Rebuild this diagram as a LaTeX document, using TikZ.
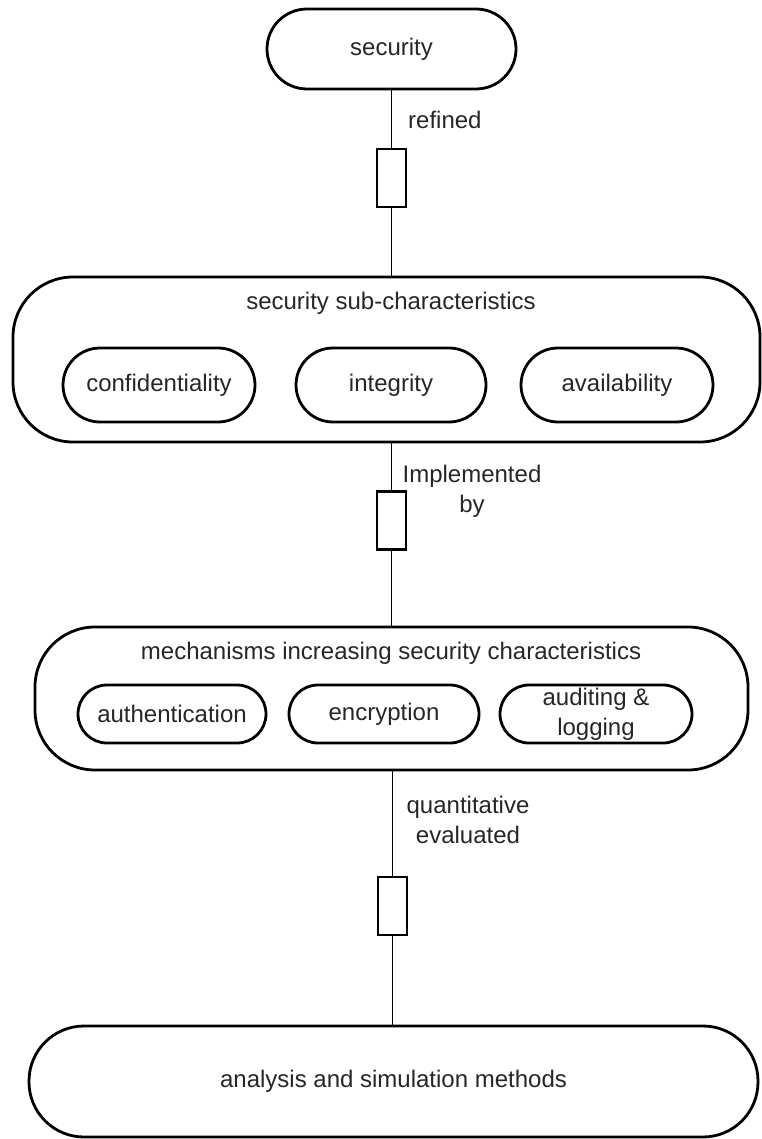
\documentclass[tikz,border=0pt]{standalone}
\usepackage{fontspec}
\setmainfont{Liberation Sans}
\begin{document}
\begin{tikzpicture}[x=1pt,y=-1pt,
  txt/.style={font=\fontsize{24}{30}\selectfont, text=black!85, align=center, inner sep=0pt},
  box/.style={draw, line width=2.8pt, txt},
  pill/.style={box, minimum height=74pt, rounded corners=37pt},
  smallpill/.style={box, minimum height=58pt, rounded corners=29pt},
  group/.style={box, rounded corners=60pt},
  link/.style={line width=1.5pt},
  stub/.style={draw, line width=2.6pt, minimum width=29pt, minimum height=58pt, inner sep=0pt},
  lbl/.style={txt}
]
\useasboundingbox (0,0) rectangle (762,1139);

% top level
\node[box, minimum width=249pt, minimum height=80pt, rounded corners=40pt] (sec) at (391.5,49) {security};

% sub-characteristics group
\node[group, minimum width=747pt, minimum height=165pt] (sub) at (386.5,359.5) {};
\node[txt] (subtitle) at (391,303) {security sub-characteristics};
\node[pill, minimum width=192pt] (conf) at (159,385) {confidentiality};
\node[pill, minimum width=190pt] (integ) at (391,385) {integrity};
\node[pill, minimum width=192pt] (avail) at (617,385) {availability};

% mechanisms group
\node[group, minimum width=713pt, minimum height=143pt] (mech) at (391.5,698.5) {};
\node[txt] (mechtitle) at (391,653) {mechanisms increasing security characteristics};
\node[smallpill, minimum width=188pt] (auth) at (172,714) {authentication};
\node[smallpill, minimum width=190pt] (enc) at (384,714) {encryption};
\node[smallpill, minimum width=192pt] (audit) at (596,714) {auditing \&\\logging};

% methods
\node[box, minimum width=729pt, minimum height=111pt, rounded corners=55pt] (meth) at (393.5,1081.5) {analysis and simulation methods};

% relation stubs
\node[stub] (r1) at (391.5,178) {};
\node[stub] (r2) at (391.5,520.5) {};
\node[stub] (r3) at (392.5,906) {};

% connectors
\draw[link] (sec.south) -- (r1.north);
\draw[link] (r1.south) -- (r1.south |- sub.north);
\draw[link] (r2.north |- sub.south) -- (r2.north);
\draw[link] (r2.south) -- (r2.south |- mech.north);
\draw[link] (r3.north |- mech.south) -- (r3.north);
\draw[link] (r3.south) -- (r3.south |- meth.north);

% relation labels
\node[lbl, anchor=west] (l1) at (408,120) {refined};
\node[lbl] (l2) at (472,491.5) {Implemented\\by};
\node[lbl] (l3) at (468,819.5) {quantitative\\evaluated};
\end{tikzpicture}
\end{document}
